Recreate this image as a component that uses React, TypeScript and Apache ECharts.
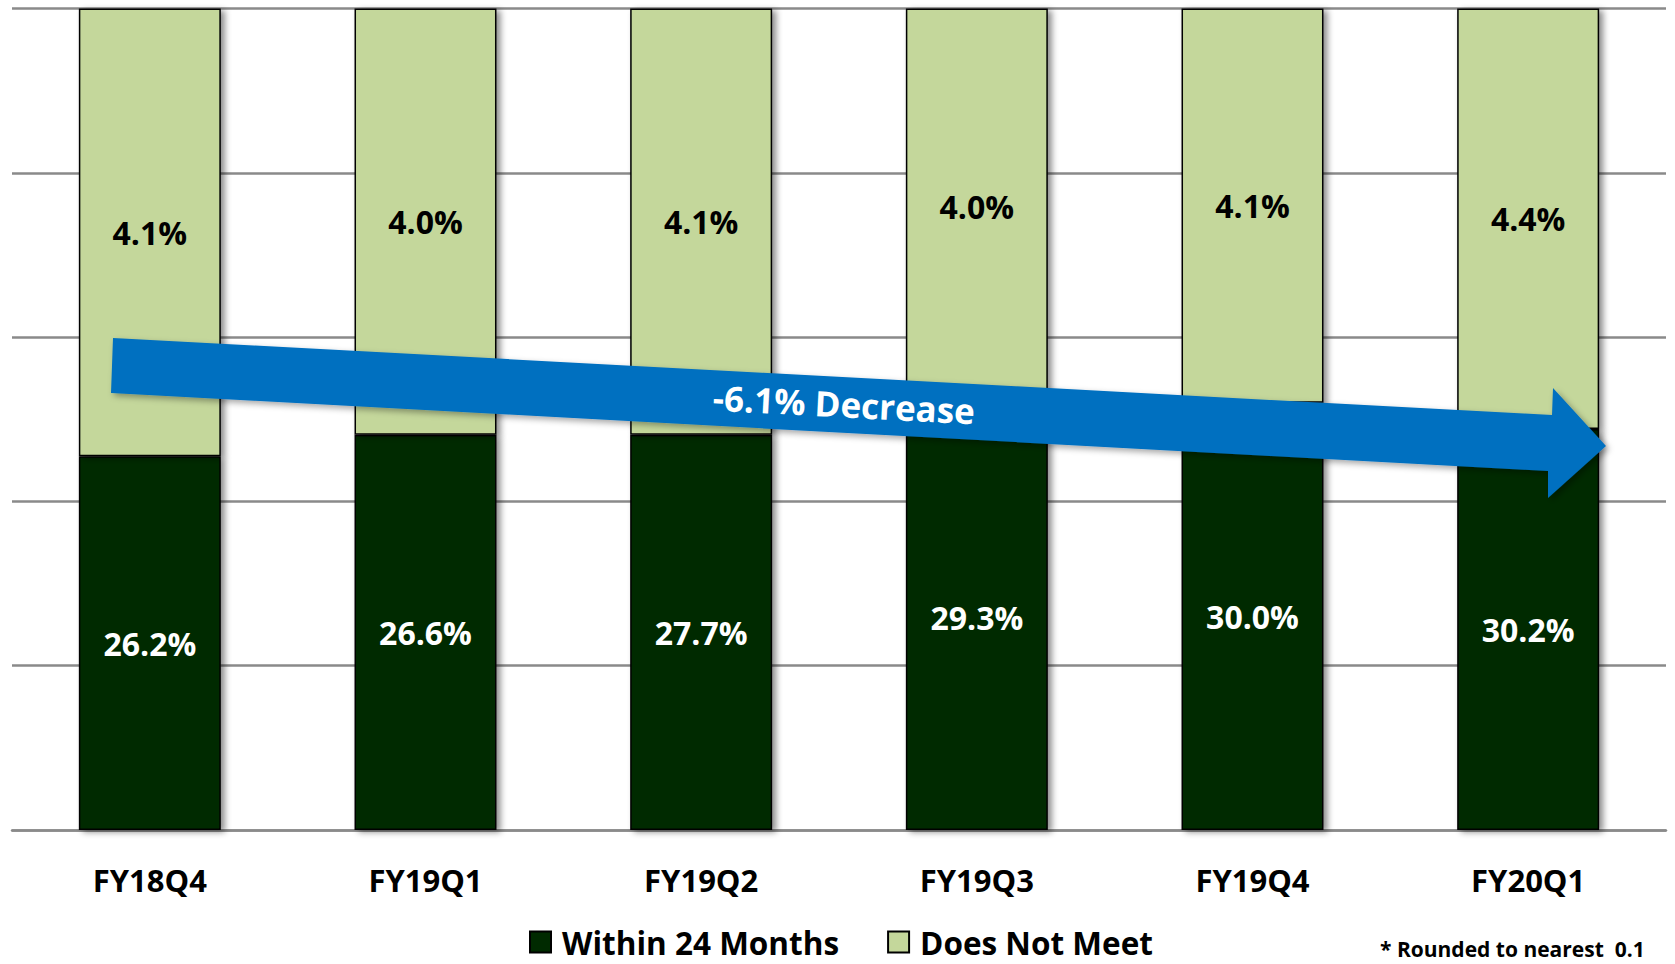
import React, { useEffect, useRef } from "react";
import * as echarts from "echarts";

const categories = ["FY18Q4", "FY19Q1", "FY19Q2", "FY19Q3", "FY19Q4", "FY20Q1"];
// bar segment shares as drawn (100% stacked)
const withinShare = [45.5, 48.1, 48.1, 51.8, 52.0, 48.8];
const notMeetShare = [54.5, 51.9, 51.9, 48.2, 48.0, 51.2];
// printed labels
const withinLabels = ["26.2%", "26.6%", "27.7%", "29.3%", "30.0%", "30.2%"];
const notMeetLabels = ["4.1%", "4.0%", "4.1%", "4.0%", "4.1%", "4.4%"];
const seriesNames = ["Within 24 Months", "Does Not Meet"];
const trendLabel = "-6.1% Decrease";
const footnote = "* Rounded to nearest  0.1";

const FONT = "'Open Sans', 'Noto Sans', sans-serif";
const DARK = "#002a00";
const LIGHT = "#c4d79b";
const BLUE = "#0070c0";

export default function App() {
  const ref = useRef<HTMLDivElement>(null);
  useEffect(() => {
    if (!ref.current) return;
    const chart = echarts.init(ref.current, undefined, { renderer: "svg" });
    const shadow = {
      shadowColor: "rgba(0,0,0,0.45)",
      shadowBlur: 6,
      shadowOffsetX: 4,
      shadowOffsetY: 2,
    };
    const slope = (415 - 338) / (1552 - 113);
    chart.setOption({
      animation: false,
      backgroundColor: "#fff",
      textStyle: { fontFamily: FONT },
      grid: { left: 12, right: 9, top: 8.5, bottom: 134, containLabel: false },
      legend: {
        data: seriesNames.map((n) => ({ name: n, icon: "rect" })),
        left: 529,
        top: 926,
        itemWidth: 21,
        itemHeight: 21,
        itemGap: 48,
        padding: 0,
        textStyle: {
          fontFamily: FONT,
          fontSize: 31.5,
          lineHeight: 30,
          fontWeight: "bold",
          color: "#000",
          padding: [0, 0, 0, 6],
        },
      },
      xAxis: {
        type: "category",
        data: categories,
        axisTick: { show: false },
        axisLine: { lineStyle: { color: "#8a8a8a", width: 2.5 } },
        axisLabel: {
          fontFamily: FONT,
          fontSize: 31,
          fontWeight: "bold",
          color: "#000",
          margin: 34,
        },
      },
      yAxis: {
        type: "value",
        min: 0,
        max: 100,
        interval: 20,
        axisLabel: { show: false },
        axisLine: { show: false },
        axisTick: { show: false },
        splitLine: { lineStyle: { color: "#8a8a8a", width: 2.5 } },
      },
      series: [
        {
          name: seriesNames[0],
          type: "bar",
          stack: "total",
          barWidth: "51.5%",
          data: withinShare,
          itemStyle: { color: DARK, borderColor: "#000", borderWidth: 1.5, ...shadow },
          label: {
            show: true,
            position: "inside",
            formatter: (p: any) => withinLabels[p.dataIndex],
            color: "#fff",
            fontFamily: FONT,
            fontSize: 32,
            fontWeight: "bold",
          },
        },
        {
          name: seriesNames[1],
          type: "bar",
          stack: "total",
          barWidth: "51.5%",
          data: notMeetShare,
          itemStyle: { color: LIGHT, borderColor: "#000", borderWidth: 1.5, ...shadow },
          label: {
            show: true,
            position: "inside",
            formatter: (p: any) => notMeetLabels[p.dataIndex],
            color: "#000",
            fontFamily: FONT,
            fontSize: 32,
            fontWeight: "bold",
          },
        },
      ],
      graphic: [
        {
          type: "polygon",
          z: 100,
          shape: {
            points: [
              [113, 338],
              [1552, 415],
              [1553, 388],
              [1606, 446],
              [1548, 498],
              [1548, 471],
              [111, 393],
            ],
          },
          style: {
            fill: BLUE,
            shadowColor: "rgba(0,0,0,0.35)",
            shadowBlur: 6,
            shadowOffsetX: 3,
            shadowOffsetY: 3,
          },
        },
        {
          type: "text",
          z: 101,
          x: 844,
          y: 404,
          rotation: -Math.atan(slope),
          style: {
            text: trendLabel,
            fill: "#fff",
            font: `bold 35px ${FONT}`,
            align: "center",
            verticalAlign: "middle",
            textAlign: "center",
            textVerticalAlign: "middle",
          },
        },
        {
          type: "text",
          z: 101,
          x: 1380,
          y: 949,
          style: {
            text: footnote,
            fill: "#000",
            font: `bold 21px ${FONT}`,
            lineHeight: 21,
            align: "left",
            verticalAlign: "middle",
            textAlign: "left",
            textVerticalAlign: "middle",
          },
        },
      ],
    });
    return () => chart.dispose();
  }, []);
  return (
    <div
      ref={ref}
      style={{ position: "fixed", left: 0, top: 0, width: 1675, height: 964 }}
    />
  );
}
